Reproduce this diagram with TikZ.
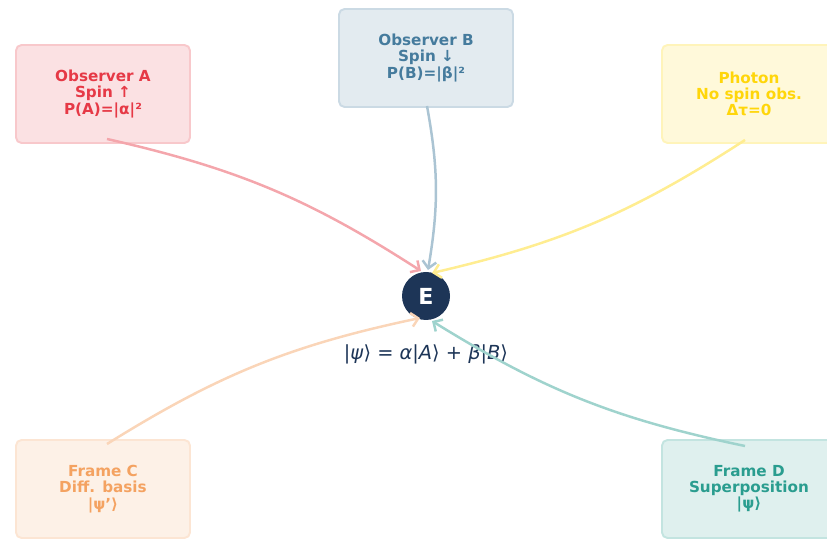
\documentclass[tikz,border=0pt]{standalone}
\usepackage{fontspec}
\setmainfont{DejaVu Sans}[ItalicFont={DejaVu Sans Oblique},BoldFont={DejaVu Sans Bold}]
\usetikzlibrary{arrows.meta}

\definecolor{obsred}{HTML}{E63946}
\definecolor{obsblue}{HTML}{457B9D}
\definecolor{photonyellow}{HTML}{FFD60A}
\definecolor{frameorange}{HTML}{F4A261}
\definecolor{frameteal}{HTML}{2A9D8F}
\definecolor{navy}{HTML}{1D3557}

\tikzset{
    obsbox/.style={rectangle, rounded corners=4pt, minimum width=1.74in, minimum height=0.98in,
        line width=1.4pt, draw=#1!28, fill=#1!15, text=#1, align=center,
        font=\bfseries\fontsize{11}{11.7}\selectfont},
    link/.style={#1!45, line width=1.8pt, -{Straight Barb[length=5pt,width=10pt]}, bend left=10}
}

\begin{document}
\begin{tikzpicture}[x=1in,y=1in]
    \clip (0,0) rectangle (8.27,5.38);
    \node[obsbox=obsred] (obsA) at (1.03,4.44) {Observer A\\Spin ↑\\P(A)=|α|²};
    \node[obsbox=obsblue] (obsB) at (4.26,4.80) {Observer B\\Spin ↓\\P(B)=|β|²};
    \node[obsbox=photonyellow] (photon) at (7.49,4.44) {Photon\\No spin obs.\\Δτ=0};
    \node[obsbox=frameorange] (frameC) at (1.03,0.49) {Frame C\\Diff. basis\\|ψ'⟩};
    \node[obsbox=frameteal] (frameD) at (7.49,0.49) {Frame D\\Superposition\\|ψ⟩};

    \node[circle, fill=navy, text=white, minimum size=0.48in, inner sep=0pt,
        font=\bfseries\fontsize{16}{16}\selectfont] (E) at (4.26,2.42) {E};
    \node[text=navy, font=\fontsize{14}{16}\selectfont] (state) at (4.26,1.84)
        {|\textit{ψ}⟩ = \textit{α}|\textit{A}⟩ + \textit{β}|\textit{B}⟩};

    \coordinate (a0) at ([shift={(0.04,-0.45)}]obsA.center);
    \coordinate (b0) at ([shift={(0.01,-0.48)}]obsB.center);
    \coordinate (p0) at ([shift={(-0.04,-0.46)}]photon.center);
    \coordinate (c0) at ([shift={(0.04,0.45)}]frameC.center);
    \coordinate (d0) at ([shift={(-0.04,0.43)}]frameD.center);

    \coordinate (a1) at ([shift={(-0.05,0.25)}]E.center);
    \coordinate (b1) at ([shift={(0.02,0.26)}]E.center);
    \coordinate (p1) at ([shift={(0.06,0.23)}]E.center);
    \coordinate (c1) at ([shift={(-0.06,-0.22)}]E.center);
    \coordinate (d1) at ([shift={(0.06,-0.25)}]E.center);

    \draw[link=obsred] (a0) to (a1);
    \draw[link=obsblue] (b0) to (b1);
    \draw[link=photonyellow] (p0) to (p1);
    \draw[link=frameorange] (c0) to (c1);
    \draw[link=frameteal] (d0) to (d1);
\end{tikzpicture}
\end{document}
